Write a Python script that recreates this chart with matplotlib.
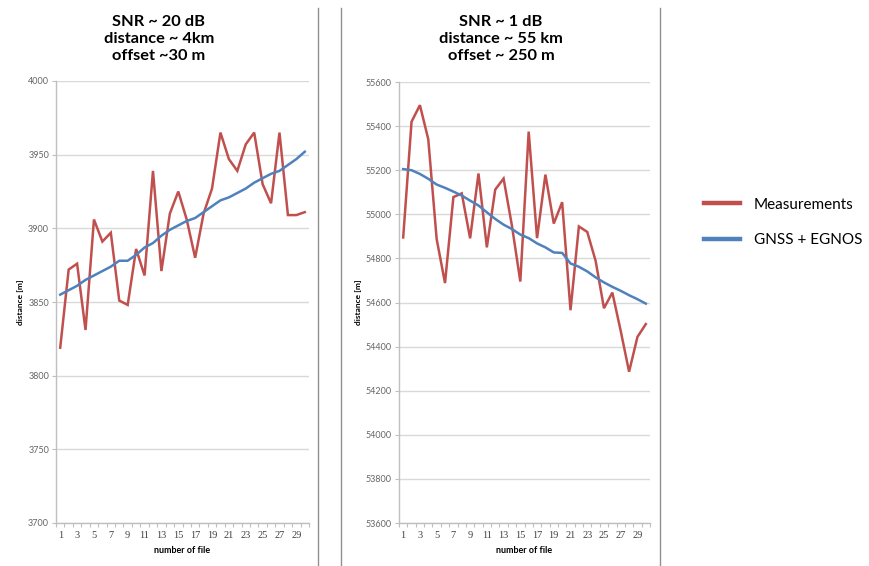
import matplotlib
matplotlib.use("Agg")
import matplotlib.pyplot as plt
from matplotlib.lines import Line2D
import numpy as np

files = list(range(1, 31))

meas_left = [3819, 3872, 3876, 3831, 3906, 3891, 3897, 3851, 3848, 3886,
             3868, 3939, 3871, 3910, 3925, 3906, 3880, 3910, 3927, 3965,
             3947, 3939, 3957, 3965, 3930, 3917, 3965, 3909, 3909, 3911]
gnss_left = [3855, 3858, 3861, 3865, 3868, 3871, 3874, 3878, 3878, 3882,
             3887, 3890, 3895, 3899, 3902, 3905, 3907, 3911, 3915, 3919,
             3921, 3924, 3927, 3931, 3934, 3937, 3939, 3943, 3947, 3952]

meas_right = [54895, 55420, 55495, 55340, 54888, 54688, 55078, 55095, 54891, 55185,
              54850, 55112, 55162, 54948, 54695, 55375, 54892, 55180, 54958, 55055,
              54565, 54945, 54920, 54789, 54574, 54645, 54471, 54286, 54444, 54502]
gnss_right = [55205, 55200, 55183, 55161, 55135, 55120, 55103, 55085, 55062, 55040,
              55009, 54979, 54953, 54933, 54908, 54892, 54868, 54850, 54827, 54825,
              54777, 54762, 54741, 54714, 54691, 54671, 54653, 54633, 54615, 54595]

titles = ["SNR ~ 20 dB\ndistance ~ 4km\noffset ~30 m",
          "SNR ~ 1 dB\ndistance ~ 55 km\noffset ~ 250 m"]
left_ticks = [3700, 3750, 3800, 3850, 3900, 3950, 4000]
right_ticks = [53600, 53800, 54000, 54200, 54400, 54600, 54800, 55000, 55200, 55400, 55600]
xtick_labels = [str(i) for i in range(1, 30, 2)]
series_names = ["Measurements", "GNSS + EGNOS"]

RED = "#C0504D"
BLUE = "#4F81BD"
GRID = "#D9D9D9"
AXC = "#BFBFBF"

W, H = 869, 566
fig = plt.figure(figsize=(W / 100, H / 100), dpi=100)

def frac_box(x0, x1, ytop, ybot):
    return [x0 / W, 1 - ybot / H, (x1 - x0) / W, (ybot - ytop) / H]

axL = fig.add_axes(frac_box(56, 309, 81, 523))
axR = fig.add_axes(frac_box(399, 650, 82, 523))

for ax, meas, gnss, yt in [(axL, meas_left, gnss_left, left_ticks),
                           (axR, meas_right, gnss_right, right_ticks)]:
    ax.plot(files, meas, color=RED, lw=1.8, solid_joinstyle="miter", zorder=3)
    ax.plot(files, gnss, color=BLUE, lw=1.8, zorder=3)
    ax.set_xlim(0.5, 30.5)
    ax.set_ylim(yt[0], yt[-1])
    ax.set_yticks(yt)
    ax.set_yticklabels([str(v) for v in yt], fontsize=6.5, color="#666666",
                       family="Lato")
    ax.yaxis.grid(True, color=GRID, lw=1.0)
    ax.set_axisbelow(True)
    ax.set_xticks(list(range(1, 30, 2)))
    ax.set_xticklabels(xtick_labels, fontsize=7.5, family="Liberation Serif",
                       color="#404040")
    ax.set_xticks(np.arange(0.5, 31, 1.0), minor=True)
    ax.tick_params(axis="x", which="major", length=0, pad=6)
    ax.tick_params(axis="x", which="minor", length=3, color=AXC, width=0.8,
                   direction="out")
    ax.tick_params(axis="y", length=3, color=AXC, width=0.8, pad=2)
    for s in ["top", "right"]:
        ax.spines[s].set_visible(False)
    for s in ["left", "bottom"]:
        ax.spines[s].set_color(AXC)
        ax.spines[s].set_linewidth(1.0)
    ax.set_ylabel("distance [m]", fontsize=6, fontweight="bold", family="Lato",
                  labelpad=3)
    ax.set_xlabel("number of file", fontsize=6.5, fontweight="bold",
                  family="Lato", labelpad=4)

fig.text(159 / W, 1 - 39 / H, titles[0], ha="center", va="center",
         fontsize=11.8, fontweight="bold", family="Lato", linespacing=1.3)
fig.text(501 / W, 1 - 39 / H, titles[1], ha="center", va="center",
         fontsize=11.8, fontweight="bold", family="Lato", linespacing=1.3)

for xp in [318, 341, 660]:
    fig.add_artist(Line2D([xp / W, xp / W], [1 - 8 / H, 0], color="#909090",
                          lw=1.0, transform=fig.transFigure))

handles = [Line2D([], [], color=RED, lw=3.2), Line2D([], [], color=BLUE, lw=3.2)]
fig.legend(handles, series_names, loc="upper left",
           bbox_to_anchor=(696 / W, 1 - 190 / H), frameon=False,
           prop={"family": "Lato", "size": 11}, handlelength=2.4,
           handletextpad=0.9, labelspacing=1.42, borderpad=0)

fig.savefig("out.png", dpi=100, facecolor="white")
